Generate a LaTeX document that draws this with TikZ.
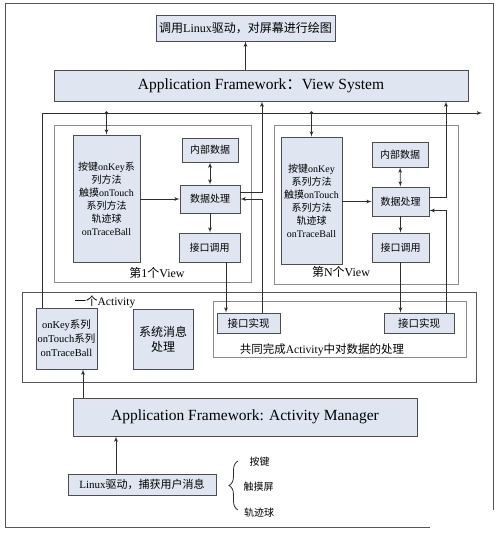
\documentclass[tikz,border=0pt]{standalone}
\usepackage{fontspec}
\setmainfont{Liberation Serif}
\newfontfamily\cjk{Noto Sans CJK SC}
\usetikzlibrary{arrows}
\usetikzlibrary{decorations.pathreplacing}
\usepackage{xcolor}
\definecolor{boxfill}{HTML}{DFE6F2}
\definecolor{boxline}{HTML}{4D4D4D}
\definecolor{framegray}{HTML}{8C8C8C}
\definecolor{framedark}{HTML}{555555}
\definecolor{wire}{HTML}{2E2E2E}
\newcommand\zh[1]{{\cjk #1}}
\newcommand\fs[2]{\fontsize{#1}{#2}\selectfont}

\begin{document}
\begin{tikzpicture}[x=1pt, y=-1pt, line width=.8pt, >=latex',
 box/.style={draw=boxline, fill=boxfill, align=center, inner sep=0pt},
 frame/.style={draw=framegray},
 arr/.style={wire, ->},
 lab/.style={inner sep=0pt, align=center}]
\useasboundingbox (0,0) rectangle (500,533);
% outer border
\draw[framedark] (430,527) -- (5,527) -- (5,3) -- (493,3) -- (493,510);

% framework boxes
\node[box, minimum width=179, minimum height=26, font=\fs{12}{14}] (top) at (245.5,28) {\zh{调用}Linux\zh{驱动，对屏幕进行绘图}};
\node[box, minimum width=414, minimum height=31, font=\fs{15.5}{18}] (vs) at (261,85.5) {Application Framework\zh{：}View System};
\node[box, minimum width=344, minimum height=38, font=\fs{15.5}{18}] (am) at (245,417) {Application Framework: Activity Manager};
\node[box, minimum width=148, minimum height=21, font=\fs{11}{13}] (lx) at (142,484.5) {Linux\zh{驱动，捕获用户消息}};

% view frames
\draw[frame] (54,125) rectangle (251,282);
\draw[frame] (274,125) rectangle (458,284);
\node[lab, font=\fs{12}{14}] (v1) at (157,273) {\zh{第}1\zh{个}View};
\node[lab, font=\fs{12}{14}] (vn) at (341,272) {\zh{第}N\zh{个}View};

% first view
\node[box, minimum width=67, minimum height=127, font=\fs{10}{13}] (tall1) at (106.5,198.5)
 {\zh{按键}onKey\zh{系}\\\zh{列方法}\\\zh{触摸}onTouch\\\zh{系列方法}\\\zh{轨迹球}\\onTraceBall};
\node[box, minimum width=56, minimum height=24, font=\fs{10}{12}] (nb1) at (210,150) {\zh{内部数据}};
\node[box, minimum width=60, minimum height=28, font=\fs{10}{12}] (dp1) at (210,199) {\zh{数据处理}};
\node[box, minimum width=61, minimum height=29, font=\fs{10}{12}] (jd1) at (209.5,247.5) {\zh{接口调用}};

% N-th view
\node[box, minimum width=61, minimum height=127, font=\fs{10}{13}] (tallN) at (311.5,200.5)
 {\zh{按键}onKey\\\zh{系列方法}\\\zh{触摸}onTouch\\\zh{系列方法}\\\zh{轨迹球}\\onTraceBall};
\node[box, minimum width=56, minimum height=25, font=\fs{10}{12}] (nbN) at (400,154.5) {\zh{内部数据}};
\node[box, minimum width=57, minimum height=29, font=\fs{10}{12}] (dpN) at (400.5,201.5) {\zh{数据处理}};
\node[box, minimum width=57, minimum height=29, font=\fs{10}{12}] (jdN) at (400.5,247.5) {\zh{接口调用}};

% activity
\draw[framedark] (22,292) rectangle (476,382);
\draw[frame] (213,301) rectangle (466,357);
\node[lab, font=\fs{11.5}{14}] (act) at (105,302) {\zh{一个}Activity};
\node[lab, font=\fs{11.5}{14}] (togo) at (322,350) {\zh{共同完成}Activity\zh{中对数据的处理}};
\node[box, minimum width=61, minimum height=61, font=\fs{10.5}{14}] (ok) at (66.5,338.5)
 {onKey\zh{系列}\\onTouch\zh{系列}\\onTraceBall};
\node[box, minimum width=60, minimum height=60, font=\fs{12}{15}] (sys) at (163,339) {\zh{系统消息}\\\zh{处理}};
\node[box, minimum width=63, minimum height=20, font=\fs{10.5}{12}] (ji1) at (248.5,323) {\zh{接口实现}};
\node[box, minimum width=70, minimum height=20, font=\fs{10.5}{12}] (jiN) at (419,323) {\zh{接口实现}};

% input sources
\draw[wire, decorate, decoration={brace, amplitude=9pt}] (238,510) -- (238,461);
\node[lab, font=\fs{10}{12}] (k1) at (259.5,462) {\zh{按键}};
\node[lab, font=\fs{10}{12}] (k2) at (258.5,487) {\zh{触摸屏}};
\node[lab, font=\fs{10}{12}] (k3) at (259,513) {\zh{轨迹球}};

% helper coordinates
\coordinate (busL) at (42,113);
\coordinate (busR) at (482,113);
\coordinate (up1) at (262,0);
\coordinate (upN) at (446,0);
\coordinate (dn1) at (226,0);
\coordinate (amup) at (83,0);
\coordinate (lxup) at (116,0);

% connectors
\draw[arr] (top.south |- vs.north) -- (top.south);
\draw[arr] (ok.north -| busL) -- (busL) -- (busR);
\foreach \t in {tall1,tallN} {
 \fill[wire] (\t.north |- busL) circle (1.9);
 \draw[arr] (\t.north |- busL) -- (\t.north);
}
\draw[arr] (tall1.east |- dp1.west) -- (dp1.west);
\draw[arr] (tallN.east |- dpN.west) -- (dpN.west);
\draw[wire, <->] (nb1) -- (dp1);
\draw[wire, <->] (nbN) -- (dpN);
\draw[arr] (dp1.south) -- (dp1.south |- jd1.north);
\draw[arr] (dpN.south) -- (dpN.south |- jdN.north);
\draw[arr] ([yshift=7pt]dp1.east) -| (vs.south -| up1);
\draw[arr] (ji1.north -| up1) |- (dp1.east);
\draw[arr] ([yshift=4pt]dpN.east) -| (vs.south -| upN);
\draw[arr] (jiN.north -| upN) |- ([yshift=-9pt]dpN.east);
\draw[arr] (jd1.south -| dn1) -- (ji1.north -| dn1);
\draw[arr] (jdN.south) -- (jdN.south |- jiN.north);
\draw[arr] (am.north -| amup) -- (ok.south -| amup);
\draw[arr] (lx.north -| lxup) -- (am.south -| lxup);
\end{tikzpicture}
\end{document}
